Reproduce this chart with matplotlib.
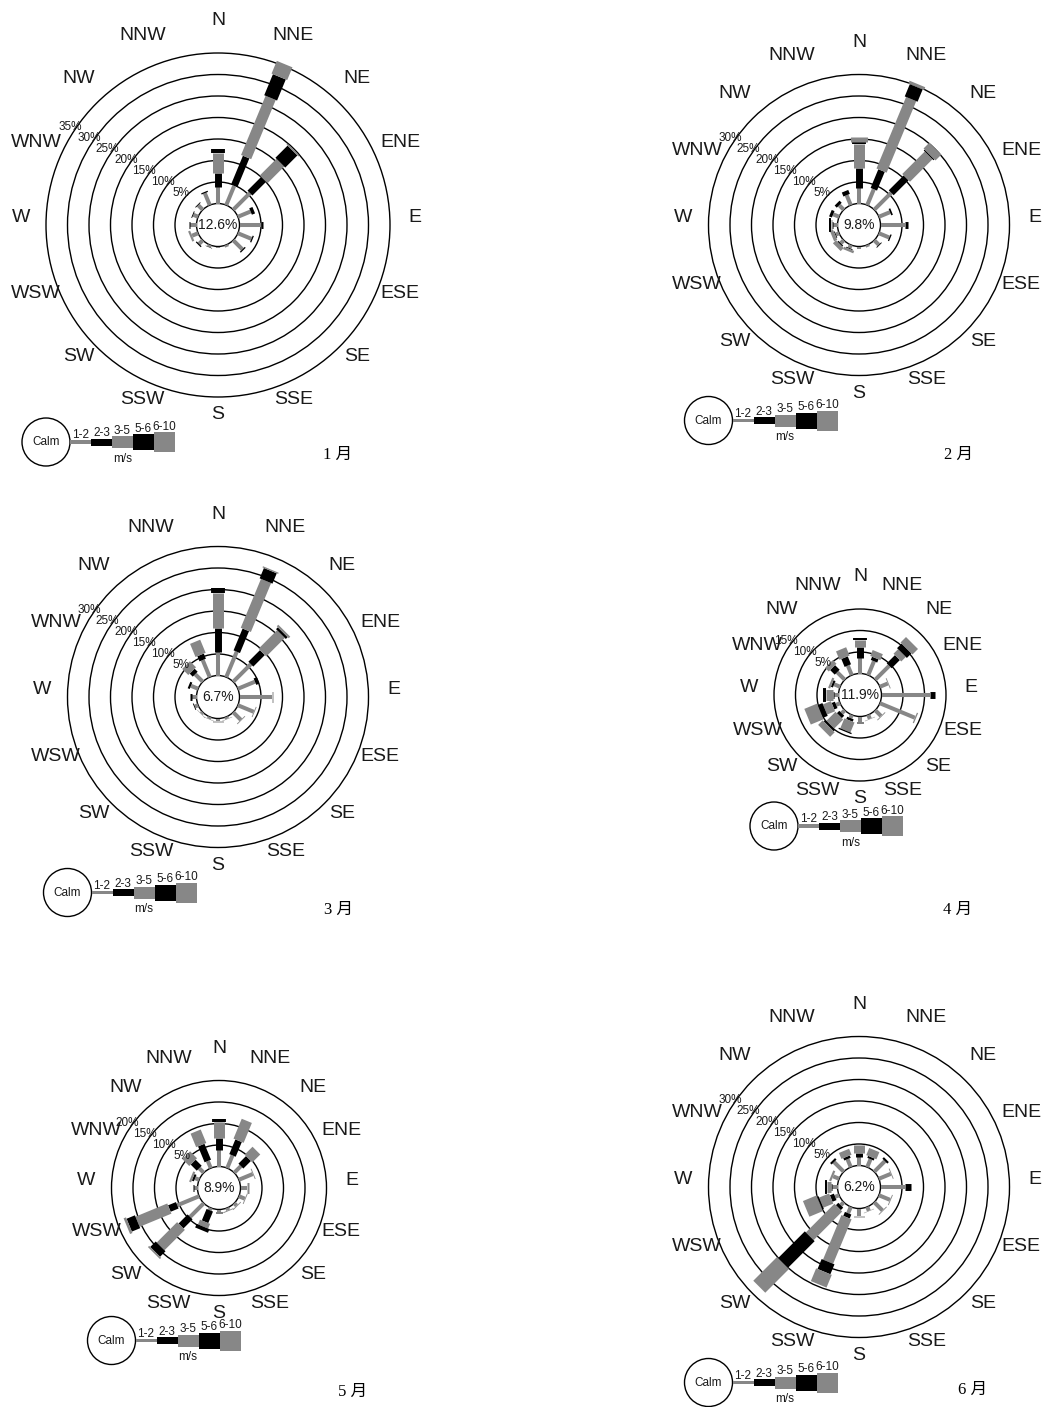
import matplotlib
matplotlib.use("Agg")
import matplotlib.pyplot as plt
from matplotlib.patches import Circle
import numpy as np

plt.rcParams['font.family'] = ['Liberation Sans', 'Noto Sans CJK SC']

DIRECTIONS = ['N', 'NNE', 'NE', 'ENE', 'E', 'ESE', 'SE', 'SSE',
              'S', 'SSW', 'SW', 'WSW', 'W', 'WNW', 'NW', 'NNW']
SPEED_BINS = ['1-2', '2-3', '3-5', '5-6', '6-10']

MONTHS = ['1 月', '2 月', '3 月', '4 月', '5 月', '6 月']
CALM = [12.6, 9.8, 6.7, 11.9, 8.9, 6.2]
RING_MAX = [35, 30, 30, 15, 20, 30]

# frequency (%) for each direction, columns follow SPEED_BINS
JAN = [[3.8, 3.3, 4.7, 0.9, 0.0], [4.9, 7.2, 14.9, 5.3, 3.2],
       [5.5, 4.5, 5.5, 4.0, 0.3], [3.2, 0.8, 0.0, 0.0, 0.0],
       [5.0, 0.4, 0.1, 0.0, 0.0], [3.4, 0.3, 0.0, 0.0, 0.0],
       [3.0, 0.3, 0.0, 0.0, 0.0], [0.5, 0.0, 0.0, 0.0, 0.0],
       [0.3, 0.0, 0.0, 0.0, 0.0], [0.5, 0.1, 0.0, 0.0, 0.0],
       [1.2, 0.3, 0.0, 0.0, 0.0], [1.5, 0.0, 0.5, 0.0, 0.0],
       [1.5, 0.3, 0.0, 0.0, 0.0], [1.2, 0.2, 0.0, 0.0, 0.0],
       [1.5, 0.2, 0.0, 0.0, 0.0], [3.0, 0.3, 0.0, 0.0, 0.0]]
FEB = [[3.5, 4.7, 5.6, 0.5, 1.2], [4.0, 4.7, 18.0, 3.1, 0.7],
       [5.6, 4.9, 7.4, 0.3, 1.9], [2.8, 0.4, 0.0, 0.0, 0.0],
       [5.8, 0.6, 0.1, 0.0, 0.0], [2.6, 0.3, 0.0, 0.0, 0.0],
       [1.5, 0.2, 0.0, 0.0, 0.0], [0.5, 0.0, 0.0, 0.0, 0.0],
       [0.5, 0.0, 0.0, 0.0, 0.0], [0.8, 0.2, 0.6, 0.0, 0.0],
       [1.0, 0.3, 1.0, 0.0, 0.0], [0.8, 0.2, 0.8, 0.0, 0.0],
       [1.0, 0.2, 0.2, 0.5, 0.0], [1.5, 0.7, 0.0, 0.0, 0.0],
       [1.5, 0.7, 0.0, 0.0, 0.0], [2.5, 1.0, 0.0, 0.0, 0.0]]
MAR = [[5.5, 5.5, 8.3, 1.0, 0.0], [6.4, 5.5, 12.3, 2.6, 0.3],
       [5.8, 3.8, 6.1, 0.6, 0.5], [4.3, 0.8, 0.0, 0.0, 0.0],
       [7.5, 0.0, 0.3, 0.0, 0.0], [4.0, 0.0, 0.2, 0.0, 0.0],
       [2.5, 0.0, 0.2, 0.0, 0.0], [0.5, 0.0, 0.1, 0.0, 0.0],
       [0.6, 0.0, 0.2, 0.0, 0.0], [0.5, 0.0, 0.1, 0.0, 0.0],
       [0.5, 0.0, 0.1, 0.0, 0.0], [0.8, 0.2, 0.0, 0.0, 0.0],
       [1.0, 0.5, 0.0, 0.0, 0.0], [1.8, 0.5, 0.0, 0.0, 0.0],
       [2.5, 1.0, 2.0, 0.0, 0.0], [4.3, 1.3, 3.3, 0.0, 0.0]]
APR = [[3.5, 2.7, 1.7, 0.3, 0.0], [3.5, 0.8, 1.5, 0.0, 0.0],
       [4.6, 2.7, 1.5, 1.5, 1.8], [2.0, 0.0, 0.2, 0.0, 0.0],
       [11.3, 1.1, 0.0, 0.0, 0.0], [8.8, 0.0, 0.3, 0.0, 0.0],
       [1.9, 0.0, 0.2, 0.0, 0.0], [1.0, 0.0, 0.1, 0.0, 0.0],
       [1.2, 0.4, 0.0, 0.0, 0.0], [0.8, 0.6, 2.5, 0.3, 0.0],
       [1.0, 0.8, 3.0, 0.5, 1.5], [1.0, 0.8, 2.0, 1.2, 3.2],
       [1.0, 0.3, 1.5, 0.7, 0.0], [1.5, 0.5, 0.5, 0.0, 0.0],
       [2.5, 1.5, 1.2, 0.0, 0.0], [2.4, 2.0, 2.1, 0.0, 0.0]]
MAY = [[3.8, 2.8, 3.8, 0.6, 0.0], [3.2, 3.7, 5.0, 0.0, 0.0],
       [2.2, 2.5, 2.6, 0.0, 0.0], [3.5, 0.0, 0.2, 0.0, 0.0],
       [1.5, 0.0, 0.4, 0.0, 0.0], [1.5, 0.0, 0.2, 0.0, 0.0],
       [0.8, 0.0, 0.2, 0.0, 0.0], [0.6, 0.0, 0.2, 0.0, 0.0],
       [0.5, 0.4, 0.0, 0.0, 0.0], [0.6, 2.9, 1.2, 0.9, 0.0],
       [4.5, 3.0, 6.7, 1.8, 0.4], [5.5, 2.0, 8.0, 2.1, 0.6],
       [0.7, 0.3, 0.0, 0.0, 0.0], [1.0, 0.5, 0.5, 0.0, 0.0],
       [1.5, 2.0, 2.3, 0.0, 0.0], [1.8, 4.0, 3.4, 0.0, 0.0]]
JUN = [[2.0, 1.0, 1.8, 0.0, 0.0], [2.0, 0.5, 1.8, 0.0, 0.0],
       [3.5, 0.5, 0.0, 0.0, 0.0], [3.0, 0.0, 0.2, 0.0, 0.0],
       [5.7, 1.5, 0.0, 0.0, 0.0], [2.8, 0.0, 0.2, 0.0, 0.0],
       [2.7, 0.0, 0.2, 0.0, 0.0], [1.0, 0.0, 0.1, 0.0, 0.0],
       [1.7, 0.0, 0.2, 0.0, 0.0], [1.6, 1.0, 11.2, 2.5, 3.2],
       [1.0, 0.8, 9.4, 8.8, 7.8], [1.0, 1.0, 2.5, 0.4, 3.4],
       [1.2, 0.2, 1.0, 0.6, 0.0], [1.5, 0.0, 0.5, 0.0, 0.0],
       [3.2, 0.5, 0.0, 0.0, 0.0], [2.0, 0.6, 1.5, 0.0, 0.0]]
FREQS = [JAN, FEB, MAR, APR, MAY, JUN]

# layout (pixels on a 1049 x 1407 canvas)
W_PX, H_PX = 1049, 1407
PX_PER_PCT = 4.3
CALM_R = 5             # calm circle drawn as one ring step
CENTERS = [(218, 225), (859, 225), (218, 697), (860, 695), (219, 1188), (859, 1187)]
MONTH_POS = [(338, 455), (958, 455), (338, 910), (958, 910), (353, 1392), (973, 1390)]

GRAY = '#878787'
BIN_COLORS = [GRAY, 'black', GRAY, 'black', GRAY]
BIN_LW = [2.9, 5.0, 7.9, 10.0, 12.2]          # points
LEG_H = [3.5, 7, 12, 16, 20]                   # pixels
LEG_SEG = 21
LEG_R = 24
TXT = '#1a1a1a'

fig = plt.figure(figsize=(W_PX / 100, H_PX / 100), dpi=100)
bg = fig.add_axes([0, 0, 1, 1])
bg.set_xlim(0, W_PX)
bg.set_ylim(H_PX, 0)
bg.set_axis_off()

dir_theta = np.deg2rad(np.arange(16) * 22.5)

for k in range(6):
    cx, cy = CENTERS[k]
    # polar axes sized so one percent is PX_PER_PCT pixels
    r_axes = CALM_R + RING_MAX[k] + 8
    side = 2 * r_axes * PX_PER_PCT
    ax = fig.add_axes([(cx - side / 2) / W_PX, (H_PX - cy - side / 2) / H_PX,
                       side / W_PX, side / H_PX], projection='polar')
    ax.set_theta_zero_location('N')
    ax.set_theta_direction(-1)
    ax.set_ylim(0, r_axes)
    ax.set_axis_off()

    # calm circle + percentage rings
    rings = [0] + list(range(5, RING_MAX[k] + 1, 5))
    for p in rings:
        bg.add_patch(Circle((cx, cy), (CALM_R + p) * PX_PER_PCT, fill=False,
                            edgecolor='black', lw=1.0, zorder=2))
    for p in rings[1:]:
        ax.annotate(f'{p}%', xy=(np.deg2rad(301), CALM_R + p),
                    xytext=(0, 7), textcoords='offset points', fontsize=8.5,
                    ha='center', va='center', color=TXT, zorder=4)

    # stacked speed classes, starting at the calm circle
    freq = np.array(FREQS[k])
    for i in range(16):
        base = CALM_R
        for j in range(len(SPEED_BINS)):
            v = freq[i, j]
            if v <= 0:
                continue
            ax.plot([dir_theta[i], dir_theta[i]], [base, base + v],
                    color=BIN_COLORS[j], lw=BIN_LW[j],
                    solid_capstyle='butt', zorder=3)
            base += v

    ax.text(0, 0, f'{CALM[k]}%', fontsize=10, ha='center', va='center',
            color=TXT, zorder=5)

    r_lab = CALM_R + RING_MAX[k] + 5.8
    for i, name in enumerate(DIRECTIONS):
        ax.annotate(name, xy=(dir_theta[i], r_lab), xytext=(0, 2),
                    textcoords='offset points', fontsize=14, ha='center',
                    va='baseline', color=TXT)

    # speed legend under each rose
    r_out = (CALM_R + RING_MAX[k]) * PX_PER_PCT
    lx, ly = cx - r_out, cy + r_out + 45
    bg.add_patch(Circle((lx, ly), LEG_R, facecolor='white',
                        edgecolor='black', lw=1.0))
    bg.text(lx, ly, 'Calm', fontsize=8.5, ha='center', va='center', color=TXT)
    lefts = lx + LEG_R + LEG_SEG * np.arange(len(SPEED_BINS))
    bg.barh(np.full(len(SPEED_BINS), ly), LEG_SEG, left=lefts, height=LEG_H,
            color=BIN_COLORS, linewidth=0)
    for j, lab in enumerate(SPEED_BINS):
        bg.text(lefts[j] + LEG_SEG / 2, ly - LEG_H[j] / 2 + 1, lab, fontsize=8.5,
                ha='center', va='bottom', color=TXT)
    bg.text(lefts[0] + LEG_SEG * 2.5, ly + 17, 'm/s', fontsize=8.5,
            ha='center', va='center', color=TXT)

    mx, my = MONTH_POS[k]
    bg.text(mx, my, MONTHS[k], fontsize=12, ha='center', va='center',
            family=['Liberation Serif', 'Noto Sans CJK SC'])

fig.savefig('out.png', dpi=100, facecolor='white')
